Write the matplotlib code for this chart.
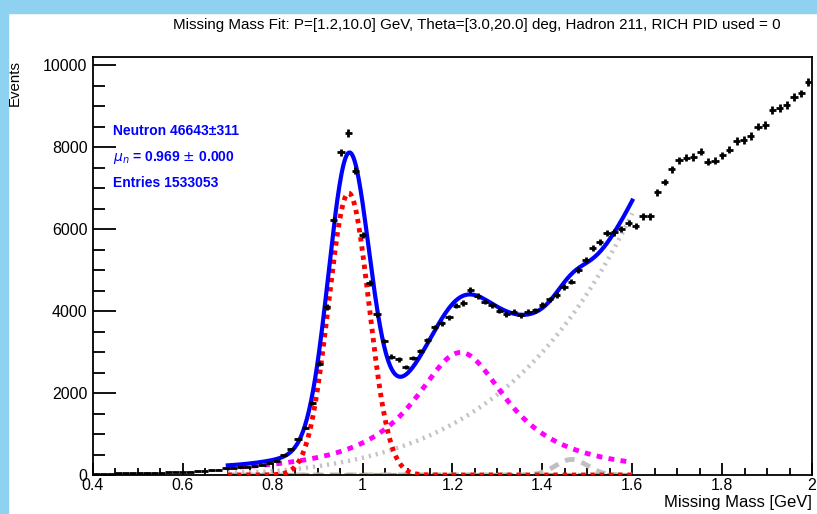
import numpy as np
import matplotlib
matplotlib.use('Agg')
import matplotlib.pyplot as plt
from matplotlib.ticker import MultipleLocator

plt.rcParams['font.family'] = ['Liberation Sans', 'DejaVu Sans']

# histogram: 100 bins from 0.4 to 2.0 GeV
bin_lo = 0.4
bin_hi = 2.0
counts = [15, 15, 20, 40, 45, 45, 50, 55, 55, 60,
          65, 70, 75, 80, 90, 100, 110, 130, 160, 175,
          185, 200, 220, 250, 290, 340, 480, 640, 880, 1150,
          1760, 2720, 4100, 6220, 7870, 8340, 7420, 5850, 4680, 3920,
          3270, 2890, 2820, 2630, 2850, 3030, 3290, 3600, 3700, 3850,
          4130, 4200, 4510, 4370, 4230, 4150, 4010, 3930, 3980, 3900,
          3980, 4020, 4150, 4290, 4390, 4590, 4720, 5000, 5240, 5530,
          5690, 5900, 5920, 6000, 6150, 6080, 6310, 6310, 6900, 7150,
          7460, 7680, 7740, 7760, 7890, 7640, 7670, 7800, 7940, 8150,
          8170, 8270, 8500, 8540, 8900, 8960, 9020, 9230, 9310, 9590]

# fit components (parameters)
fit_range = (0.7, 1.6)
neutron_amp, neutron_mean, neutron_sigma = 6880, 0.969, 0.045
second_amp, second_mean, second_hwhm = 2990, 1.218, 0.13
bump_amp, bump_mean, bump_sigma = 380, 1.465, 0.035
flat_level = 0.0
bg_x = [0.70, 0.80, 0.90, 1.00, 1.10, 1.20, 1.30, 1.40, 1.50, 1.60]
bg_y = [50, 110, 230, 400, 720, 1250, 2000, 3000, 4400, 6400]

title = 'Missing Mass Fit: P=[1.2,10.0] GeV, Theta=[3.0,20.0] deg, Hadron 211, RICH PID used = 0'
stats = ['Neutron 46643\u00b1311', r'$\mu_{n}$ = 0.969 $\pm$ 0.000', 'Entries 1533053']

counts = np.array(counts, dtype=float)
nbins = len(counts)
width = (bin_hi - bin_lo) / nbins
centers = bin_lo + width * (np.arange(nbins) + 0.5)

xf = np.linspace(fit_range[0], fit_range[1], 400)
neutron = neutron_amp * np.exp(-0.5 * ((xf - neutron_mean) / neutron_sigma) ** 2)
second = second_amp / (1 + ((xf - second_mean) / second_hwhm) ** 2)
bump = bump_amp * np.exp(-0.5 * ((xf - bump_mean) / bump_sigma) ** 2)
flat = np.full_like(xf, flat_level)
bg = np.polyval(np.polyfit(bg_x, bg_y, 4), xf)
total = neutron + second + bump + flat + bg

fig = plt.figure(figsize=(8.17, 5.14), dpi=100)
fig.patch.set_facecolor('white')
# light blue screenshot border
fig.patches.append(plt.Rectangle((0, 1 - 13 / 514), 1, 13 / 514, transform=fig.transFigure,
                                 color='#8fd1f0', zorder=0))
fig.patches.append(plt.Rectangle((0, 0), 8 / 817, 1, transform=fig.transFigure,
                                 color='#8fd1f0', zorder=0))

ax = fig.add_axes([93 / 817, 39 / 514, 719 / 817, 418 / 514])

ax.plot(xf, bg, color='#c4c4c4', lw=3.2, ls=(0, (0.5, 1.1)), zorder=2)
ax.plot(xf, bump, color='#c0c0c0', lw=3.5, ls=(0, (2, 1.5)), zorder=2)
ax.plot(xf, flat, color='#e0a526', lw=3, ls=(0, (2, 1.5)), zorder=2)
ax.plot(xf, second, color='magenta', lw=3.5, ls=(0, (1.2, 1.3)), zorder=3)
ax.plot(xf, neutron, color='red', lw=3.5, ls=(0, (0.9, 1.0)), zorder=3)
ax.plot(xf, total, color='blue', lw=3, zorder=4)

ax.errorbar(centers, counts, xerr=width / 2, yerr=np.sqrt(counts), fmt='none',
            ecolor='black', elinewidth=2.0, capsize=0, zorder=5)

ax.set_xlim(bin_lo, bin_hi)
ax.set_ylim(0, 10200)
ax.xaxis.set_major_locator(MultipleLocator(0.2))
ax.xaxis.set_minor_locator(MultipleLocator(0.05))
ax.yaxis.set_major_locator(MultipleLocator(2000))
ax.yaxis.set_minor_locator(MultipleLocator(500))
ax.set_xticks([0.4, 0.6, 0.8, 1.0, 1.2, 1.4, 1.6, 1.8, 2.0])
ax.set_xticklabels(['0.4', '0.6', '0.8', '1', '1.2', '1.4', '1.6', '1.8', '2'])
ax.tick_params(axis='both', which='both', direction='in', top=False, right=False,
               labelsize=11.5, width=1.3, colors='black')
ax.tick_params(axis='y', which='major', length=16.5, pad=4)
ax.tick_params(axis='y', which='minor', length=8.5)
ax.tick_params(axis='x', which='major', length=9, pad=2)
ax.tick_params(axis='x', which='minor', length=5)
for s in ax.spines.values():
    s.set_linewidth(1.3)

fig.text(477 / 817, 1 - 25 / 514, title, ha='center', va='center', fontsize=10.9)
fig.text(15 / 817, 1 - 60 / 514, 'Events', rotation=90, ha='center', va='top', fontsize=10.8)
fig.text(812 / 817, 1 - 503 / 514, 'Missing Mass [GeV]', ha='right', va='center', fontsize=12)

for i, s in enumerate(stats):
    fig.text(113 / 817, 1 - (131 + 26 * i) / 514, s, ha='left', va='center',
             fontsize=10, color='blue', fontweight='bold')

fig.savefig('out.png', dpi=100)
